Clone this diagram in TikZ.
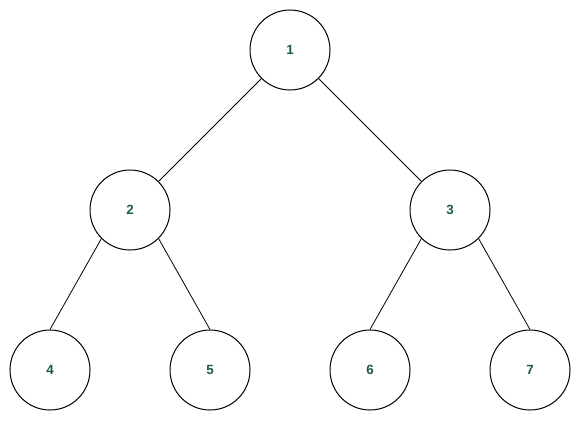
\documentclass[tikz,border=0pt]{standalone}
\usepackage{fontspec}
\setmainfont{Liberation Sans}
\definecolor{txtgreen}{RGB}{30,90,62}
\begin{document}
\begin{tikzpicture}[x=0.75pt,y=-0.75pt,
  treenode/.style={draw=black,circle,minimum size=60pt,inner sep=0pt,line width=0.75pt,font=\bfseries\fontsize{10}{12}\selectfont,text=txtgreen},
  edge/.style={draw=black,line width=0.6pt}]
\useasboundingbox (0,0) rectangle (581,421);
\node[treenode] (n1) at (290,50) {1};
\node[treenode] (n2) at (130,210) {2};
\node[treenode] (n3) at (450,210) {3};
\node[treenode] (n4) at (50,370) {4};
\node[treenode] (n5) at (210,370) {5};
\node[treenode] (n6) at (370,370) {6};
\node[treenode] (n7) at (530,370) {7};
\draw[edge] (n1.south west) -- (n2.north east);
\draw[edge] (n1.south east) -- (n3.north west);
\draw[edge] (n2.south west) -- (n4.north);
\draw[edge] (n2.south east) -- (n5.north);
\draw[edge] (n3.south west) -- (n6.north);
\draw[edge] (n3.south east) -- (n7.north);
\end{tikzpicture}
\end{document}
